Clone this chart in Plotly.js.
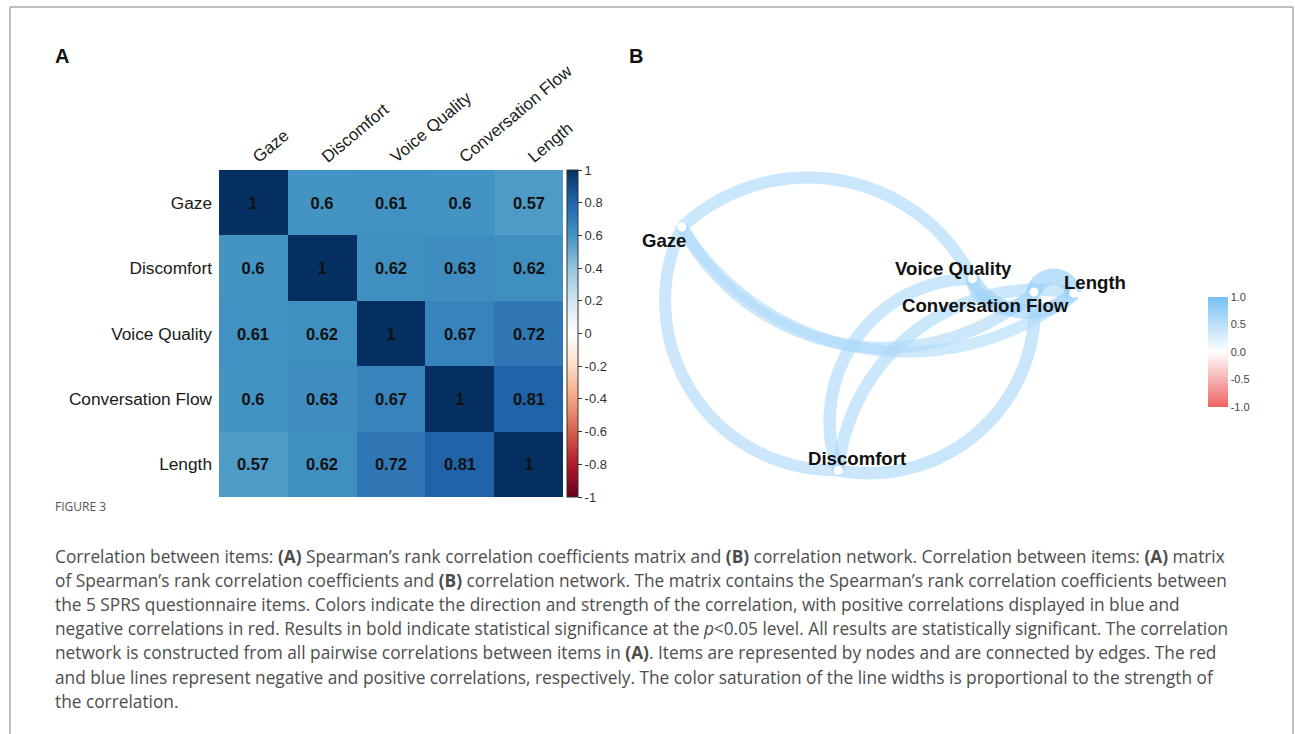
<!DOCTYPE html>
<html>
<head>
<meta charset="utf-8">
<script src="https://cdn.plot.ly/plotly-3.0.1.min.js"></script>
<style>
  html, body { margin: 0; padding: 0; background: #ffffff; }
  #chart { width: 1295px; height: 734px; }
</style>
</head>
<body>
<div id="chart"></div>
<script>
// ---------------- DATA ----------------
const items = ["Gaze", "Discomfort", "Voice Quality", "Conversation Flow", "Length"];
const corrGaze         = [1,    0.6,  0.61, 0.6,  0.57];
const corrDiscomfort   = [0.6,  1,    0.62, 0.63, 0.62];
const corrVoiceQuality = [0.61, 0.62, 1,    0.67, 0.72];
const corrConvFlow     = [0.6,  0.63, 0.67, 1,    0.81];
const corrLength       = [0.57, 0.62, 0.72, 0.81, 1];
const corrMatrix = [corrGaze, corrDiscomfort, corrVoiceQuality, corrConvFlow, corrLength];

const corrTickVals   = [1, 0.8, 0.6, 0.4, 0.2, 0, -0.2, -0.4, -0.6, -0.8, -1];
const corrTickText   = ["1", "0.8", "0.6", "0.4", "0.2", "0", "-0.2", "-0.4", "-0.6", "-0.8", "-1"];
const netTickVals    = [1, 0.5, 0, -0.5, -1];
const netTickText    = ["1.0", "0.5", "0.0", "-0.5", "-1.0"];

// network layout (node coordinates of the spring layout, same order as items)
const nodeX = [-0.90, -0.19, 0.42, 0.70, 0.88];
const nodeY = [0.445, -0.66, 0.21, 0.15, 0.145];

// ---------------- STYLE ----------------
const rdbu = [
  [0.0, "#67001F"], [0.1, "#B2182B"], [0.2, "#D6604D"], [0.3, "#F4A582"], [0.4, "#FDDBC7"],
  [0.5, "#FFFFFF"], [0.6, "#D1E5F0"], [0.7, "#92C5DE"], [0.8, "#4393C3"], [0.9, "#2166AC"], [1.0, "#053061"]
];
const netScale = [[0, "rgb(239,98,98)"], [0.5, "rgb(255,255,255)"], [1, "rgb(118,192,246)"]];
// curvature (signed sagitta / chord) per pair "i-j"
const edgeBend = {
  "0-1": -0.28, "0-2": 0.25, "0-3": -0.24, "0-4": -0.225,
  "1-2": 0.26, "1-3": -0.25, "1-4": 0.22,
  "2-3": -0.35, "2-4": -0.25, "3-4": 0.40
};
// label offsets in px [dx, dy(up)]
const labelShift = [[-18, -13], [19, 12], [-19, 10], [-49, -13], [21, 11]];

const FONT = "Liberation Sans, Arial, Helvetica, sans-serif";
const CAPFONT = "Open Sans, Lato, sans-serif";

// ---------------- HELPERS ----------------
function arcPoints(p0, p2, s, n) {
  const dx = p2[0] - p0[0], dy = p2[1] - p0[1];
  const L = Math.hypot(dx, dy);
  const mx = (p0[0] + p2[0]) / 2, my = (p0[1] + p2[1]) / 2;
  const nx = -dy / L, ny = dx / L;
  const h = s * L;
  const xs = [], ys = [];
  if (Math.abs(h) < 1e-9) { return {x: [p0[0], p2[0]], y: [p0[1], p2[1]]}; }
  const R = (L * L / 4 + h * h) / (2 * Math.abs(h));
  const ax = mx + nx * h, ay = my + ny * h;
  const sg = Math.sign(h);
  const cx = ax - nx * sg * R, cy = ay - ny * sg * R;
  const a0 = Math.atan2(p0[1] - cy, p0[0] - cx);
  const a2 = Math.atan2(p2[1] - cy, p2[0] - cx);
  const aA = Math.atan2(ay - cy, ax - cx);
  const norm = a => { while (a > Math.PI) a -= 2 * Math.PI; while (a <= -Math.PI) a += 2 * Math.PI; return a; };
  let d = norm(a2 - a0);
  const dm = norm(aA - a0);
  if (Math.sign(dm) !== Math.sign(d)) d = d - Math.sign(d) * 2 * Math.PI;
  for (let k = 0; k <= n; k++) {
    const a = a0 + d * k / n;
    xs.push(cx + R * Math.cos(a));
    ys.push(cy + R * Math.sin(a));
  }
  return {x: xs, y: ys};
}
function lerpColor(r) {
  const t = (r + 1) / 2;
  const parse = c => c.match(/\d+/g).map(Number);
  let i = 0;
  while (i < netScale.length - 2 && t > netScale[i + 1][0]) i++;
  const [t0, c0] = netScale[i], [t1, c1] = netScale[i + 1];
  const f = (t - t0) / (t1 - t0);
  const a = parse(c0), b = parse(c1);
  return a.map((v, k) => Math.round(v + (b[k] - v) * f));
}

// ---------------- TRACES ----------------
const traces = [];

// Panel A heatmap
traces.push({
  type: "heatmap",
  x: items, y: items, z: corrMatrix,
  zmin: -1, zmax: 1,
  colorscale: rdbu,
  xgap: 0, ygap: 0,
  texttemplate: "<b>%{z}</b>",
  textfont: {family: FONT, size: 16.5, color: "#111111"},
  hoverinfo: "skip",
  colorbar: {
    x: 567 / 1295, xanchor: "left", xpad: 0, ypad: 0,
    y: 1 - 333.5 / 734, yanchor: "middle",
    len: 327 / 734, lenmode: "fraction",
    thickness: 11,
    outlinewidth: 1, outlinecolor: "#333333",
    ticks: "outside", ticklen: 4, tickcolor: "#333333", tickwidth: 1,
    tickvals: corrTickVals, ticktext: corrTickText,
    tickfont: {family: FONT, size: 13, color: "#333333"}
  }
});

// Panel B edges
const edgeList = [];
for (let i = 0; i < items.length; i++) {
  for (let j = i + 1; j < items.length; j++) {
    edgeList.push([i, j, corrMatrix[i][j]]);
  }
}
edgeList.sort((a, b) => a[2] - b[2]);
edgeList.forEach(([i, j, r]) => {
  const pts = arcPoints([nodeX[i], nodeY[i]], [nodeX[j], nodeY[j]], edgeBend[i + "-" + j], 150);
  const c = lerpColor(r);
  traces.push({
    type: "scatter", mode: "lines",
    x: pts.x, y: pts.y, xaxis: "x2", yaxis: "y2",
    line: {color: `rgba(${c[0]},${c[1]},${c[2]},0.62)`, width: 20 * Math.abs(r), shape: "linear", simplify: false},
    hoverinfo: "skip", showlegend: false
  });
});

// nodes
traces.push({
  type: "scatter", mode: "markers",
  x: nodeX, y: nodeY, xaxis: "x2", yaxis: "y2",
  marker: {size: 9, color: "#ffffff", line: {width: 0}},
  hoverinfo: "skip", showlegend: false
});

// colour legend for panel B (invisible carrier)
traces.push({
  type: "scatter", mode: "markers",
  x: nodeX, y: nodeY, xaxis: "x2", yaxis: "y2",
  marker: {
    size: 1, opacity: 0, color: nodeX.map(() => 0), cmin: -1, cmax: 1,
    colorscale: netScale, showscale: true,
    colorbar: {
      x: 1208 / 1295, xanchor: "left", xpad: 0, ypad: 0,
      y: 1 - 352 / 734, yanchor: "middle",
      len: 110 / 734, lenmode: "fraction",
      thickness: 20, outlinewidth: 0,
      ticks: "", tickvals: netTickVals, ticktext: netTickText,
      tickfont: {family: FONT, size: 11, color: "#444444"}
    }
  },
  hoverinfo: "skip", showlegend: false
});

// ---------------- ANNOTATIONS ----------------
const annotations = [];
annotations.push({xref: "paper", yref: "paper", x: 62 / 1295, y: 1 - 56 / 734, text: "<b>A</b>",
  showarrow: false, font: {family: FONT, size: 20, color: "#111"}, xanchor: "center", yanchor: "middle"});
annotations.push({xref: "paper", yref: "paper", x: 636 / 1295, y: 1 - 56 / 734, text: "<b>B</b>",
  showarrow: false, font: {family: FONT, size: 20, color: "#111"}, xanchor: "center", yanchor: "middle"});

items.forEach((name, i) => {
  annotations.push({
    xref: "x2", yref: "y2", x: nodeX[i], y: nodeY[i], text: "<b>" + name + "</b>",
    showarrow: false, xshift: labelShift[i][0], yshift: labelShift[i][1],
    font: {family: FONT, size: 18.6, color: "#111"}, xanchor: "center", yanchor: "middle"
  });
});

const captionLines = [
  "Correlation between items: <b>(A)</b> Spearman’s rank correlation coefficients matrix and <b>(B)</b> correlation network. Correlation between items: <b>(A)</b> matrix",
  "of Spearman’s rank correlation coefficients and <b>(B)</b> correlation network. The matrix contains the Spearman’s rank correlation coefficients between",
  "the 5 SPRS questionnaire items. Colors indicate the direction and strength of the correlation, with positive correlations displayed in blue and",
  "negative correlations in red. Results in bold indicate statistical significance at the <i>p</i>&lt;0.05 level. All results are statistically significant. The correlation",
  "network is constructed from all pairwise correlations between items in <b>(A)</b>. Items are represented by nodes and are connected by edges. The red",
  "and blue lines represent negative and positive correlations, respectively. The color saturation of the line widths is proportional to the strength of",
  "the correlation."
];
annotations.push({xref: "paper", yref: "paper", x: 53 / 1295, y: 1 - 506 / 734, text: "FIGURE 3",
  showarrow: false, xanchor: "left", yanchor: "middle", font: {family: CAPFONT, size: 12, color: "#555555"}});
captionLines.forEach((t, k) => {
  annotations.push({xref: "paper", yref: "paper", x: 53 / 1295, y: 1 - (556 + 24.2 * k) / 734, text: t,
    showarrow: false, xanchor: "left", yanchor: "middle", align: "left",
    font: {family: CAPFONT, size: 17.3, color: "#4d4d4d"}});
});

// ---------------- LAYOUT ----------------
// network axes: 220 px per unit on both axes, centred at pixel (880, 325)
const layout = {
  width: 1295, height: 734,
  margin: {l: 0, r: 0, t: 0, b: 0},
  paper_bgcolor: "#ffffff", plot_bgcolor: "rgba(0,0,0,0)",
  showlegend: false,
  xaxis: {
    domain: [219 / 1295, 563 / 1295], side: "top", tickangle: -40,
    tickfont: {family: FONT, size: 17, color: "#1a1a1a"},
    showgrid: false, zeroline: false, ticks: "", showline: false, fixedrange: true
  },
  yaxis: {
    domain: [1 - 497 / 734, 1 - 170 / 734], autorange: "reversed",
    tickfont: {family: FONT, size: 17.3, color: "#1a1a1a"},
    showgrid: false, zeroline: false, ticks: "", showline: false, fixedrange: true,
    ticklabelstandoff: 6
  },
  xaxis2: {
    domain: [600 / 1295, 1160 / 1295], range: [(600 - 880) / 220, (1160 - 880) / 220], anchor: "y2",
    visible: false, fixedrange: true
  },
  yaxis2: {
    domain: [1 - 500 / 734, 1 - 150 / 734], range: [(325 - 500) / 220, (325 - 150) / 220], anchor: "x2",
    visible: false, fixedrange: true
  },
  annotations: annotations,
  shapes: [
    {type: "line", xref: "paper", yref: "paper", x0: 10 / 1295, x1: 1293 / 1295, y0: 1 - 7 / 734, y1: 1 - 7 / 734, line: {color: "#aaaaaa", width: 1.5}},
    {type: "line", xref: "paper", yref: "paper", x0: 10 / 1295, x1: 10 / 1295, y0: 1 - 7 / 734, y1: 0, line: {color: "#aaaaaa", width: 1.5}},
    {type: "line", xref: "paper", yref: "paper", x0: 1293 / 1295, x1: 1293 / 1295, y0: 1 - 7 / 734, y1: 0, line: {color: "#aaaaaa", width: 1.5}}
  ]
};

Plotly.newPlot("chart", traces, layout, {displayModeBar: false, staticPlot: true});
</script>
</body>
</html>
